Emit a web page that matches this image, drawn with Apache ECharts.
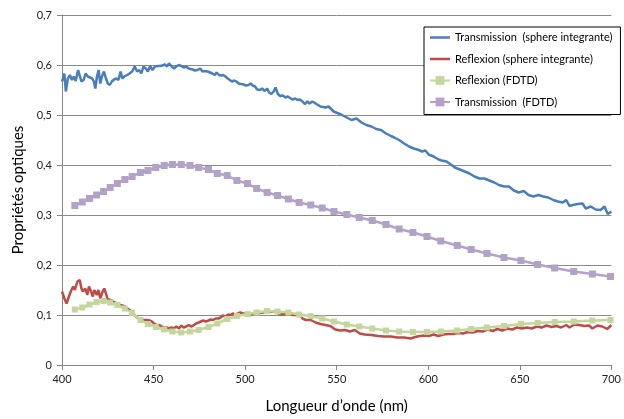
<!DOCTYPE html>
<html><head><meta charset="utf-8">
<script src="https://cdn.jsdelivr.net/npm/echarts@6/dist/echarts.min.js"></script>
<style>html,body{margin:0;padding:0;background:#fff}#c{width:624px;height:419px}</style>
</head><body><div id="c"></div>
<script>
const seriesNames = ['Transmission  (sphere integrante)', 'Reflexion (sphere integrante)', 'Reflexion (FDTD)', 'Transmission  (FDTD)'];
const xAxisTitle = 'Longueur d\u2019onde (nm)';
const yAxisTitle = 'Propri\u00e9t\u00e9s optiques';
const xTicks = [400, 450, 500, 550, 600, 650, 700];
const yTicks = [0, 0.1, 0.2, 0.3, 0.4, 0.5, 0.6, 0.7];

// Measured transmission (sphere integrante)
const transSphereNm = [400,401.3,402.1,403.2,404.3,405.4,406.4,407.5,408.8,409.7,
410.6,411.8,412.9,414.1,415,416.5,417.4,418.2,419.1,420,
420.9,421.8,422.9,424,425,426.1,427.2,428.4,429.7,430.8,
432,432.9,434,435.6,436.9,438.3,439.7,441,442.2,443.3,
444.5,445.8,446.9,448.1,449.4,450.8,452.2,453.5,454.7,456.2,
457.4,458.3,459.7,461.2,462.4,463.7,465.1,466.5,467.8,469.1,
470.1,471.4,472.6,474.1,475.5,476.7,478,479.4,480.9,482.1,
483.4,484.4,485.7,486.9,488,489.3,490.5,491.6,492.8,494.1,
495.2,496.4,497.7,499.1,500.4,501.8,503,504.1,505.4,506.6,
508.1,509.3,510.7,512,513.1,514.3,515.6,516.6,517.9,519.1,
520.6,522,523.3,524.5,525.9,527.4,528.6,529.9,531.3,532.6,
534,535.2,536.7,
538.5,541.1,543.8,545.6,548.3,551,552.8,555.5,558.1,560.8,
563.5,566.2,568.9,571.6,574.2,576.9,579.6,581.4,584.1,586.8,
589.5,592.1,594.8,596.6,598.4,600.2,602.9,605.6,607.3,610,
612.7,614.5,617.2,619.9,622.5,625.2,627.9,630.6,633.3,636,
638.6,641.3,644,646.7,649.4,652.1,654.7,657.4,660.1,662.8,
665.5,668.2,670.8,673.5,675.3,677.1,678.9,681.6,684.2,686,
688.7,691.4,694.1,696.2,698,700];
const transSphereVal = [0.567,0.583,0.547,0.573,0.580,0.570,0.577,0.568,0.590,0.593,
0.567,0.570,0.583,0.577,0.580,0.573,0.567,0.553,0.577,0.590,
0.563,0.577,0.587,0.573,0.563,0.560,0.567,0.571,0.573,0.570,
0.587,0.573,0.577,0.580,0.583,0.587,0.597,0.587,0.590,0.583,
0.597,0.593,0.587,0.598,0.590,0.597,0.598,0.598,0.599,0.601,
0.597,0.603,0.598,0.593,0.597,0.600,0.598,0.595,0.597,0.593,
0.590,0.591,0.589,0.590,0.593,0.587,0.588,0.587,0.585,0.583,
0.580,0.585,0.580,0.579,0.580,0.577,0.573,0.570,0.567,0.569,
0.567,0.563,0.562,0.561,0.559,0.560,0.563,0.559,0.557,0.551,
0.550,0.553,0.548,0.553,0.545,0.542,0.547,0.555,0.542,0.538,
0.539,0.535,0.537,0.534,0.531,0.533,0.530,0.531,0.527,0.522,
0.527,0.523,0.527,
0.523,0.517,0.515,0.517,0.507,0.503,0.500,0.495,0.490,0.493,
0.485,0.480,0.477,0.472,0.470,0.463,0.458,0.455,0.450,0.443,
0.437,0.433,0.430,0.427,0.429,0.421,0.417,0.411,0.409,0.407,
0.400,0.395,0.391,0.387,0.383,0.377,0.373,0.373,0.369,0.365,
0.360,0.357,0.357,0.349,0.345,0.348,0.340,0.337,0.340,0.337,
0.335,0.330,0.327,0.325,0.330,0.318,0.320,0.322,0.323,0.313,
0.317,0.311,0.310,0.317,0.302,0.307];

// Measured reflexion (sphere integrante)
const reflSphereNm = [400,401.3,402.5,403.8,404.8,406.1,407,408.4,409.7,410.6,
411.4,412.7,413.8,414.7,415.9,416.8,417.7,419,419.9,420.9,
422.2,423.1,424,424.9,426.3,427.5,428.8,430.2,431.7,432.9,
434.2,435.6,437,438.3,439.5,441,442.4,443.6,444.9,446.3,
447.8,449,450.3,451.7,453.1,454.4,455.6,457.1,458.5,459.7,
461,462.4,463.9,465.1,466.4,467.8,469.2,470.5,471.7,473.2,
474.6,475.8,477.1,478.5,480,481.2,482.5,483.9,485.3,486.6,
487.8,489.3,490.7,492,493.2,494.6,496.1,497.3,
499.1,502.7,506.3,509.8,513.4,516.6,518.8,522.4,525.9,529.5,
531.3,533.1,535.8,538.5,541.1,543.8,546.5,549.2,551.9,554.6,
557.2,559.9,562.6,565.3,568.9,572.5,576,579.6,583.2,586.8,
590.3,593.9,
597.5,600.2,602.9,605.5,608.2,610.9,613.6,616.3,619,621.6,
624.3,627,629.7,632.4,635.1,637.8,640.4,643.1,645.8,648.5,
651.2,653.9,656.5,659.2,661.9,664.6,667.3,670,672.6,675.3,
677.1,679.8,682.5,685.2,687.8,689.6,692.3,695,697.7,700];
const reflSphereVal = [0.147,0.133,0.123,0.137,0.147,0.157,0.150,0.167,0.170,0.153,
0.147,0.153,0.140,0.157,0.147,0.137,0.150,0.140,0.150,0.133,
0.147,0.153,0.143,0.132,0.130,0.128,0.125,0.123,0.120,0.119,
0.117,0.113,0.110,0.105,0.100,0.095,0.092,0.090,0.090,0.090,
0.089,0.087,0.083,0.080,0.080,0.077,0.075,0.075,0.073,0.075,
0.073,0.077,0.073,0.079,0.075,0.077,0.080,0.077,0.079,0.083,
0.085,0.087,0.089,0.087,0.089,0.091,0.090,0.093,0.093,0.095,
0.099,0.097,0.101,0.100,0.103,0.101,0.103,0.105,
0.103,0.102,0.103,0.105,0.106,0.108,0.101,0.102,0.100,0.100,
0.093,0.090,0.090,0.085,0.082,0.080,0.078,0.071,0.069,0.070,
0.067,0.070,0.063,0.061,0.060,0.058,0.057,0.057,0.055,0.055,
0.053,0.057,
0.059,0.058,0.061,0.058,0.061,0.062,0.062,0.064,0.063,0.066,
0.065,0.068,0.067,0.071,0.068,0.072,0.069,0.073,0.071,0.075,
0.073,0.075,0.073,0.077,0.075,0.079,0.076,0.078,0.075,0.080,
0.075,0.081,0.080,0.078,0.079,0.073,0.079,0.077,0.072,0.080];

// FDTD simulation (same wavelength samples for both)
const fdtdNm = [407.0,411.1,415.0,418.9,422.7,426.3,430.2,434.3,438.3,442.8,
446.9,451.2,455.8,460.3,465.1,469.9,474.6,480.0,484.8,490.2,
495.5,501.3,506.3,512.0,517.7,523.6,529.5,535.8,542.1,548.5,
555.5,562.3,569.4,576.9,584.1,591.6,599.3,606.8,615.8,623.4,
632.0,641.3,650.6,659.7,669.0,679.4,689.6,699.5];
const reflFdtdVal = [0.111,0.115,0.121,0.126,0.128,0.125,0.120,0.113,0.104,0.090,
0.082,0.076,0.071,0.067,0.065,0.067,0.070,0.076,0.083,0.092,
0.098,0.102,0.105,0.108,0.107,0.105,0.101,0.098,0.093,0.087,
0.081,0.077,0.073,0.069,0.067,0.066,0.066,0.067,0.069,0.072,
0.075,0.078,0.082,0.084,0.086,0.087,0.089,0.090];
const transFdtdVal = [0.319,0.326,0.333,0.340,0.347,0.355,0.363,0.371,0.377,0.385,
0.389,0.395,0.399,0.401,0.401,0.399,0.395,0.391,0.383,0.379,
0.369,0.363,0.353,0.345,0.339,0.332,0.325,0.320,0.314,0.307,
0.301,0.295,0.289,0.281,0.272,0.265,0.257,0.248,0.239,0.231,
0.223,0.215,0.209,0.201,0.194,0.187,0.182,0.177];

const pairs = (xs, ys) => xs.map((x, i) => [x, ys[i]]);
const FONT = 'Lato, "Liberation Sans", sans-serif';
const LINE_ICON = 'path://M0,0H20V2.5H0Z';

const chart = echarts.init(document.getElementById('c'), null, {renderer: 'canvas'});
chart.setOption({
  animation: false,
  backgroundColor: '#ffffff',
  textStyle: {fontFamily: FONT},
  grid: {left: 62, right: 3, top: 15, bottom: 54, containLabel: false},
  legend: {
    orient: 'vertical',
    left: 424, top: 27,
    width: 193,
    padding: [5, 8, 7, 5],
    itemGap: 10.5,
    itemWidth: 20, itemHeight: 11,
    backgroundColor: '#ffffff',
    borderColor: '#000000', borderWidth: 1,
    textStyle: {fontFamily: FONT, fontSize: 11, color: '#000000'},
    data: [
      {name: seriesNames[0], icon: LINE_ICON},
      {name: seriesNames[1], icon: LINE_ICON},
      {name: seriesNames[2]},
      {name: seriesNames[3]}
    ]
  },
  xAxis: {
    type: 'value', min: xTicks[0], max: xTicks[xTicks.length - 1], interval: 50,
    name: xAxisTitle, nameLocation: 'middle', nameGap: 34,
    nameTextStyle: {fontFamily: FONT, fontSize: 15, color: '#000000'},
    axisLine: {show: true, lineStyle: {color: '#868686', width: 1}},
    axisTick: {show: true, length: 5, inside: false, lineStyle: {color: '#868686'}},
    axisLabel: {fontFamily: FONT, fontSize: 11, color: '#222222', margin: 9},
    splitLine: {show: false}
  },
  yAxis: {
    type: 'value', min: yTicks[0], max: yTicks[yTicks.length - 1], interval: 0.1,
    name: yAxisTitle, nameLocation: 'middle', nameGap: 33, nameRotate: 90,
    nameTextStyle: {fontFamily: FONT, fontSize: 15, color: '#000000'},
    axisLine: {show: true, lineStyle: {color: '#868686', width: 1}},
    axisTick: {show: true, length: 5, inside: false, lineStyle: {color: '#868686'}},
    axisLabel: {fontFamily: FONT, fontSize: 11, color: '#222222', margin: 10,
      formatter: v => (Math.abs(v) < 1e-9 ? '0' : v.toFixed(1).replace('.', ','))},
    splitLine: {show: true, lineStyle: {color: '#8a8a8a', width: 1}}
  },
  series: [
    {name: seriesNames[0], type: 'line', data: pairs(transSphereNm, transSphereVal),
     symbol: 'none', showSymbol: false, smooth: false,
     lineStyle: {color: '#4A7EBB', width: 2.5}, itemStyle: {color: '#4A7EBB'}},
    {name: seriesNames[1], type: 'line', data: pairs(reflSphereNm, reflSphereVal),
     symbol: 'none', showSymbol: false,
     lineStyle: {color: '#BE4B48', width: 2.5}, itemStyle: {color: '#BE4B48'}},
    {name: seriesNames[2], type: 'line', data: pairs(fdtdNm, reflFdtdVal),
     symbol: 'rect', symbolSize: 6, showSymbol: true,
     lineStyle: {color: '#C3D69B', width: 2.5}, itemStyle: {color: '#C3D69B'}},
    {name: seriesNames[3], type: 'line', data: pairs(fdtdNm, transFdtdVal),
     symbol: 'rect', symbolSize: 7, showSymbol: true,
     lineStyle: {color: '#B3A2C7', width: 2.5}, itemStyle: {color: '#B3A2C7'}}
  ]
});
</script>
</body></html>
